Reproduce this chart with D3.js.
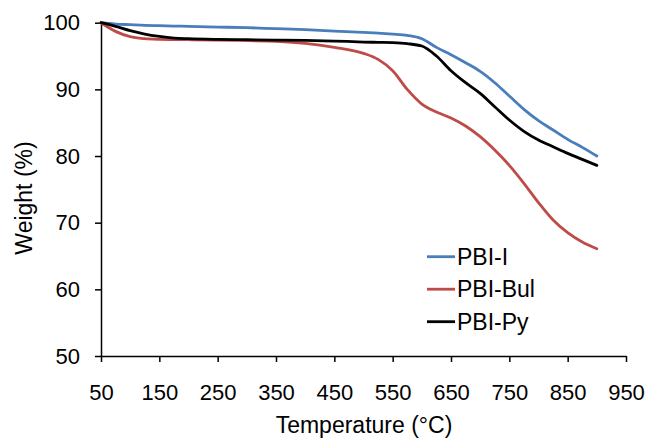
<!DOCTYPE html>
<html>
  <head>
    <meta charset="utf-8">
    <title>TGA curves</title>
    <script src="https://d3js.org/d3.v7.min.js"></script>
    <style>
      body { margin: 0; background: #fff; }
      svg { display: block; font-family: "Liberation Sans", Arial, sans-serif; }
      .axis path, .axis line { stroke: #000; stroke-width: 1.5; }
      .axis text { font-size: 22px; fill: #000; font-family: "Liberation Sans", Arial, sans-serif; }
      .title, .legendLabel { font-size: 23px; fill: #000; }
      .curve { fill: none; stroke-width: 2.8; stroke-linejoin: round; stroke-linecap: round; }
    </style>
  </head>
  <body>
    <svg id="chart" width="646" height="438"></svg>
    <script>
      // data
      temps = [50, 75, 100, 125, 150, 175, 200, 250, 300, 350, 400, 450, 500, 525, 550,
        575, 600, 625, 650, 675, 700, 725, 750, 775, 800, 825, 850, 875, 900];
      pbiI = [100, 99.8, 99.7, 99.6, 99.55, 99.5, 99.45, 99.35, 99.25, 99.1, 98.95, 98.75, 98.55, 98.45, 98.3,
        98.1, 97.6, 96.3, 95.2, 94.0, 92.7, 91.0, 89.0, 87.0, 85.3, 83.9, 82.5, 81.3, 80.0];
      pbiBul = [100, 98.7, 97.9, 97.6, 97.5, 97.47, 97.45, 97.4, 97.3, 97.2, 96.9, 96.3, 95.4, 94.5, 92.8,
        90.0, 87.8, 86.6, 85.7, 84.5, 82.9, 80.9, 78.6, 75.9, 73.0, 70.4, 68.5, 67.1, 66.1];
      pbiPy = [100, 99.45, 98.8, 98.3, 97.95, 97.7, 97.6, 97.5, 97.45, 97.4, 97.35, 97.25, 97.1, 97.05, 97.0,
        96.85, 96.5, 95.0, 92.8, 91.0, 89.4, 87.4, 85.4, 83.7, 82.4, 81.4, 80.4, 79.5, 78.6];
      seriesNames = ["PBI-I", "PBI-Bul", "PBI-Py"];
      seriesColors = ["#4a7ebb", "#be4b48", "#000000"];
      xTicks = [50, 150, 250, 350, 450, 550, 650, 750, 850, 950];
      yTicks = [50, 60, 70, 80, 90, 100];

      svg = d3.select("#chart");
      x = d3.scaleLinear().domain([50, 950]).range([101, 626]);
      y = d3.scaleLinear().domain([50, 100]).range([356, 22.7]);

      // axes
      svg.append("g")
        .attr("class", "axis")
        .attr("transform", "translate(0,356)")
        .call(d3.axisBottom(x).tickValues(xTicks).tickSize(6).tickSizeOuter(0).tickPadding(22));
      svg.append("g")
        .attr("class", "axis")
        .attr("transform", "translate(101,0)")
        .call(d3.axisLeft(y).tickValues(yTicks).tickSize(6).tickSizeOuter(0).tickPadding(15));

      // curves
      allSeries = [pbiI, pbiBul, pbiPy];
      line = d3.line()
        .x(function(d, i) { return x(temps[i]); })
        .y(function(d) { return y(d); })
        .curve(d3.curveMonotoneX);
      svg.selectAll(".curve")
        .data(allSeries)
        .enter().append("path")
          .attr("class", "curve")
          .attr("stroke", function(d, i) { return seriesColors[i]; })
          .attr("d", line);

      // legend
      legend = svg.selectAll(".legend")
        .data(seriesNames)
        .enter().append("g")
          .attr("class", "legend")
          .attr("transform", function(d, i) { return "translate(427," + (256.7 + i * 32.5) + ")"; });
      legend.append("line")
        .attr("x1", 0).attr("x2", 28)
        .attr("stroke", function(d, i) { return seriesColors[i]; })
        .attr("stroke-width", 2.8);
      legend.append("text")
        .attr("class", "legendLabel")
        .attr("x", 30)
        .attr("dy", "0.35em")
        .text(function(d) { return d; });

      // titles
      svg.append("text")
        .attr("class", "title")
        .attr("x", 364)
        .attr("y", 433)
        .attr("text-anchor", "middle")
        .text("Temperature (°C)");
      svg.append("text")
        .attr("class", "title")
        .attr("transform", "translate(32,198) rotate(-90)")
        .attr("text-anchor", "middle")
        .text("Weight (%)");
    </script>
  </body>
</html>
